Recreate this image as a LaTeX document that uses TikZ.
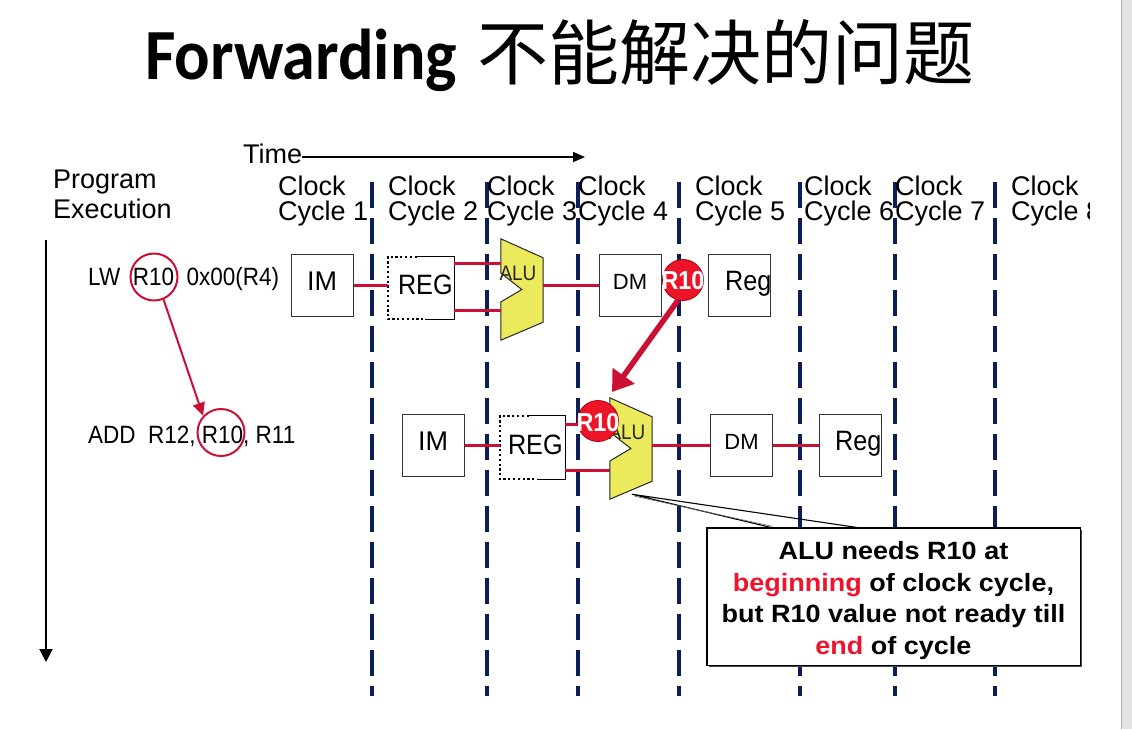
\documentclass[tikz,border=0pt]{standalone}
\usepackage{fontspec}
\setmainfont{Liberation Sans}
\newfontfamily\cjkfont{Noto Sans CJK SC}
\newfontfamily\titlefont[FakeStretch=0.92]{Carlito}
\newfontfamily\condfont[FakeStretch=0.9]{Liberation Sans}
\newfontfamily\widefont[FakeStretch=1.08]{Liberation Sans}
\usetikzlibrary{arrows.meta,calc}
\definecolor{wire}{RGB}{204,16,52}
\definecolor{navy}{RGB}{12,30,90}
\definecolor{alufill}{RGB}{234,234,92}
\definecolor{rball}{RGB}{238,20,40}
\definecolor{rballedge}{RGB}{170,0,20}
\definecolor{hot}{RGB}{237,20,45}
\newcommand\fsz[1]{\fontsize{#1}{#1}\selectfont}
\newcommand\drawALU[1]{%
  \draw[fill=alufill, draw=black!85, line width=1pt]
    (#1.north west) -- ($(#1.north east)+(0,19)$) -- ($(#1.south east)+(0,-18)$)
    -- (#1.south west) -- ($(#1.west)+(0,12.5)$) -- ($(#1.west)+(21,0)$)
    -- ($(#1.west)+(0,-16.5)$) -- cycle;}
\begin{document}
\begin{tikzpicture}[x=1pt,y=-1pt,
  box/.style={draw=black!80, line width=1pt, fill=white, minimum width=62pt,
    minimum height=62pt, inner sep=0pt, text height=19pt, text depth=9pt, font=\fsz{27}},
  regbox/.style={minimum width=66pt, minimum height=62pt, inner sep=0pt},
  wireline/.style={draw=wire, line width=3pt},
  gridline/.style={draw=navy, line width=3.5pt, dash pattern=on 26pt off 10pt},
  hdr/.style={anchor=base west, inner sep=0pt, font=\fsz{27}},
  instr/.style={anchor=base west, inner sep=0pt, font=\condfont\fsz{25}},
  ball/.style={circle, fill=rball, draw=rballedge, line width=0.8pt, minimum size=41pt, inner sep=0pt},
  balltext/.style={text=white, font=\condfont\bfseries\fsz{26}, inner sep=0pt},
  ring/.style={circle, draw=wire, line width=2pt, minimum size=47pt, inner sep=0pt},
  alubox/.style={minimum width=42pt, minimum height=101pt, inner sep=0pt},
  alutext/.style={inner sep=0pt, anchor=base, font=\condfont\fsz{21}, text=black!85},
  regtext/.style={anchor=base west, inner sep=0pt, font=\condfont\fsz{28}},
  dotborder/.style={line width=2.2pt, dash pattern=on 2.2pt off 2.6pt},
  solidborder/.style={line width=1.3pt},
]
\useasboundingbox (0,0) rectangle (1132,729);
\fill[white] (0,0) rectangle (1132,729);
% right gray strip
\fill[black!11] (1121,0) rectangle (1132,729);
\draw[black!30, line width=1pt] (1121,0) -- (1121,729);

% title
\node[anchor=base west, inner sep=0pt] (title) at (145,79)
  {\titlefont\bfseries\fsz{72}Forwarding\hspace{20pt}{\cjkfont\mdseries\fsz{71}不能解决的问题}};

% grid lines
\foreach \gx in {372,487,578,679,800,895,995}
  \draw[gridline] (\gx,182) -- (\gx,696);

% headers
\node[hdr] (time) at (243,163) {Time};
\coordinate (tend) at (585,157);
\draw[line width=1.5pt, -{Triangle[length=12pt,width=10pt]}] (time.east |- tend) -- (tend);
\node[hdr] (prog1) at (53,188) {Program};
\node[hdr] (prog2) at (53,218) {Execution};
\foreach \cx/\n in {278/1,388/2,487/3,578/4,695/5,804/6,895/7}{
  \node[hdr] (clk\n) at (\cx,195) {Clock};
  \node[hdr] (cyc\n) at (\cx,220) {Cycle \n};
}
\begin{scope}
  \clip (1000,160) rectangle (1089,235);
  \node[hdr] (clk8) at (1011,195) {Clock};
  \node[hdr] (cyc8) at (1011,220) {Cycle 8};
\end{scope}

% program execution arrow
\coordinate (pt) at (46,240);
\coordinate (pb) at (46,662);
\draw[line width=2pt, -{Triangle[length=13pt,width=13pt]}] (pt) -- (pb);

% instructions
\node[instr] (lw) at (88,285) {LW\ \ R10\ \ 0x00(R4)};
\node[instr] (add) at (88,443) {ADD\ \ R12,\ R10,\ R11};
\node[ring] (ring1) at (154,277) {};
\node[ring, minimum size=47pt] (ring2) at (221,432.5) {};
\draw[wire, line width=2pt, -{Triangle[length=13pt,width=12pt]}] (ring1.-67) -- (ring2.137);

% ---------- row 1 ----------
\node[box] (im1) at (322,285) {IM};
\node[regbox] (reg1) at (421,288) {};
\draw[dotborder] ($(reg1.north west)+(29,0)$) -- (reg1.north west) -- (reg1.south west) -- ($(reg1.south west)+(37,0)$);
\draw[solidborder] ($(reg1.north west)+(29,0)$) -- (reg1.north east) -- (reg1.south east) -- ($(reg1.south west)+(37,0)$);
\begin{scope}
  \clip (reg1.north west) rectangle (reg1.south east);
  \node[regtext] (reg1t) at ($(reg1.west)+(10,6)$) {REG};
\end{scope}
\node[alubox] (alu1) at (522,289.5) {};
\drawALU{alu1}
\node[alutext] (alu1t) at ($(alu1.center)+(-4,-9.5)$) {ALU};
\node[box, font=\fsz{22}, text height=16pt, text depth=8pt] (dm1) at (630,285) {DM};
\node[box] (rg1) at (739,285) {};
\begin{scope}
  \clip (rg1.north west) rectangle (rg1.south east);
  \node[regtext] (rg1t) at (725,290) {Reg};
\end{scope}
\draw[wireline] (im1.east) -- (im1.east -| reg1.west);
\coordinate (w1) at ($(reg1.north east)+(0,7)$);
\coordinate (w2) at ($(reg1.south east)+(0,-9)$);
\draw[wireline] (w1) -- (w1 -| alu1.west);
\draw[wireline] (w2) -- (w2 -| alu1.west);
\draw[wireline] (dm1.west -| alu1.east) -- (dm1.west);

% ---------- row 2 ----------
\node[box] (im2) at (433,445) {IM};
\node[regbox, minimum width=65pt, minimum height=63pt] (reg2) at (532.5,447.5) {};
\draw[dotborder] ($(reg2.north west)+(29,0)$) -- (reg2.north west) -- (reg2.south west) -- ($(reg2.south west)+(37,0)$);
\draw[solidborder] ($(reg2.north west)+(29,0)$) -- (reg2.north east) -- (reg2.south east) -- ($(reg2.south west)+(37,0)$);
\begin{scope}
  \clip (reg2.north west) rectangle (reg2.south east);
  \node[regtext] (reg2t) at ($(reg2.west)+(8,6.5)$) {REG};
\end{scope}
\draw[wireline] (im2.east) -- (im2.east -| reg2.west);
\coordinate (w3) at ($(reg2.north east)+(0,9)$);
\coordinate (w4) at ($(reg2.south east)+(0,-9)$);
\node[alubox] (alu2) at (631,448.5) {};
\draw[wireline] (w3) -- (w3 -| alu2.west);
\draw[wireline] (w4) -- (w4 -| alu2.west);
\drawALU{alu2}
\node[alutext] (alu2t) at ($(alu2.center)+(-4,-9.5)$) {ALU};
\node[box, font=\fsz{22}, text height=16pt, text depth=8pt] (dm2) at (741.5,445) {DM};
\node[box] (rg2) at (850,445) {};
\begin{scope}
  \clip (rg2.north west) rectangle (rg2.south east);
  \node[regtext] (rg2t) at (835,450) {Reg};
\end{scope}
\draw[wireline] (dm2.west -| alu2.east) -- (dm2.west);
\draw[wireline] (dm2.east) -- (rg2.west);

% red balls
\node[ball] (r10a) at (683,280) {};
\node[balltext] (r10at) at (683,280.5) {R10};
\node[ball] (r10b) at (598,421) {};
\node[balltext] (r10bt) at (598,423) {R10};
\coordinate (tip2) at ($(r10b.center)+(14,-29)$);
\draw[wire, line width=5.5pt, -{Triangle[length=20pt,width=26pt]}] (r10a.-104) -- (tip2);

% callout
\node[minimum width=373pt, minimum height=137pt, inner sep=0pt] (note) at (893.5,596.5) {};
\fill[black!70] ($(note.north west)+(2,2)$) rectangle ($(note.south east)+(2,2)$);
\draw[fill=white, line width=1.4pt] (note.north west) rectangle (note.south east);
\coordinate (ctip) at ($(alu2.south west)+(22,-5)$);
\coordinate (cp1) at ($(note.north west)+(65.5,0)$);
\coordinate (cp2) at ($(note.north west)+(152.5,0)$);
\draw[line width=1.1pt] (cp1) -- (ctip) -- (cp2);
\draw[line width=0.6pt, black!60] ($(cp1)+(0,-1.5)$) -- ($(ctip)+(3,2)$);
\node[align=center, inner sep=0pt, font=\widefont\bfseries\fontsize{25}{31.6}\selectfont] (notetxt) at ($(note.center)+(0,4)$)
  {ALU needs R10 at\\ \textcolor{hot}{beginning} of clock cycle,\\ but R10 value not ready till\\ \textcolor{hot}{end} of cycle};
\end{tikzpicture}
\end{document}
